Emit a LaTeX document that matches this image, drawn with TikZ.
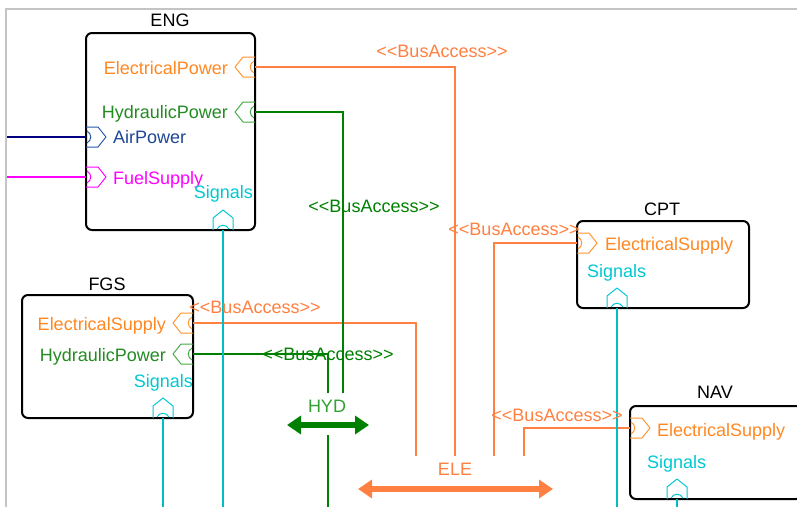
\documentclass[tikz,border=0pt]{standalone}
\usepackage{fontspec}
\setmainfont{Liberation Sans}
\usetikzlibrary{arrows.meta}
\definecolor{frame}{RGB}{196,196,196}
\definecolor{orline}{RGB}{255,128,64}
\definecolor{ortext}{RGB}{255,136,34}
\definecolor{orport}{RGB}{255,150,50}
\definecolor{grline}{RGB}{0,128,0}
\definecolor{grtext}{RGB}{34,139,34}
\definecolor{grport}{RGB}{70,170,70}
\definecolor{hydtext}{RGB}{50,160,50}
\definecolor{nvline}{RGB}{0,0,128}
\definecolor{bltext}{RGB}{30,70,150}
\definecolor{blport}{RGB}{40,90,170}
\definecolor{mgline}{RGB}{255,0,255}
\definecolor{cyline}{RGB}{0,190,200}
\definecolor{cytext}{RGB}{0,200,210}
\newcommand{\busacc}{<\kern0pt<BusAccess>\kern0pt>}
\tikzset{
  blk/.style={draw=black, line width=2pt, rounded corners=6pt, rectangle, inner sep=0pt},
  lbl/.style={inner sep=0pt, font=\fontsize{18}{21}\selectfont},
  ttl/.style={lbl, text=black, anchor=base},
  conn/.style={line width=2.2pt},
  bigarrow/.style={line width=6pt, {Triangle[length=14pt,width=18pt]}-{Triangle[length=14pt,width=18pt]}},
  pics/port/.style={code={
    \draw[#1, line width=1pt, line join=round] (0,-10) -- (-12,-10) -- (-20,0) -- (-12,10) -- (0,10);
    \draw[#1, line width=1pt] (-1,-6) .. controls (-6,-3) and (-6,3) .. (-1,6);
  }},
}
\begin{document}
\begin{tikzpicture}[x=1pt,y=-1pt]
\useasboundingbox (0,0) rectangle (797,506);
\clip (0,0) rectangle (797,506);
\fill[white] (0,0) rectangle (797,506);
% frame
\coordinate (frBL) at (6,512);
\coordinate (frTL) at (6,8.5);
\coordinate (frTR) at (805,8.5);
\draw[frame, line width=2pt] (frBL) -- (frTL) -- (frTR);

% boxes
\node[blk, minimum width=169pt, minimum height=197pt] (eng) at (170.5,131.5) {};
\node[blk, minimum width=171pt, minimum height=123pt] (fgs) at (107.5,356.5) {};
\node[blk, minimum width=172pt, minimum height=87pt] (cpt) at (663,264.5) {};
\node[blk, minimum width=172pt, minimum height=93pt] (nav) at (716,452.5) {};

% titles
\node[ttl] (engT) at (170,27) {ENG};
\node[ttl] (fgsT) at (107,290) {FGS};
\node[ttl] (cptT) at (662,215) {CPT};
\node[ttl] (navT) at (715,398) {NAV};

% port coordinates
\coordinate (engEP) at (255,67);
\coordinate (engHP) at (255,112);
\coordinate (engAP) at (86,137);
\coordinate (engFS) at (86,177);
\coordinate (engSig) at (223,230);
\coordinate (fgsES) at (193,323);
\coordinate (fgsHP) at (193,354);
\coordinate (fgsSig) at (163,418);
\coordinate (cptES) at (577,243);
\coordinate (cptSig) at (617,308);
\coordinate (navES) at (630,428);
\coordinate (navSig) at (677,499);

% free ends
\coordinate (airL) at (7,137);
\coordinate (fuelL) at (7,177);
\coordinate (hydA) at (343,393);
\coordinate (hydB) at (328,393);
\coordinate (hydC) at (328,435);
\coordinate (hydD) at (328,512);
\coordinate (eleA) at (455,456);
\coordinate (eleB) at (416,456);
\coordinate (eleC) at (494,456);
\coordinate (eleD) at (524,456);
\coordinate (engSigE) at (223,512);
\coordinate (fgsSigE) at (163,512);
\coordinate (cptSigE) at (617,512);
\coordinate (navSigE) at (677,512);
\coordinate (hydL) at (287,425);
\coordinate (hydR) at (369,425);
\coordinate (eleL) at (358,489);
\coordinate (eleR) at (553,489);

% connectors
\draw[conn, nvline] (airL) -- (engAP);
\draw[conn, mgline] (fuelL) -- (engFS);
\draw[conn, orline] (engEP) -| (eleA);
\draw[conn, orline] (fgsES) -| (eleB);
\draw[conn, orline] (cptES) -| (eleC);
\draw[conn, orline] (navES) -| (eleD);
\draw[conn, grline] (engHP) -| (hydA);
\draw[conn, grline] (fgsHP) -| (hydB);
\draw[conn, grline] (hydC) -- (hydD);
\draw[conn, cyline] (engSig) -- (engSigE);
\draw[conn, cyline] (fgsSig) -- (fgsSigE);
\draw[conn, cyline] (cptSig) -- (cptSigE);
\draw[conn, cyline] (navSig) -- (navSigE);
\draw[bigarrow, grline] (hydL) -- (hydR);
\draw[bigarrow, orline] (eleL) -- (eleR);

% ports
\pic at (engEP) {port=orport};
\pic at (engHP) {port=grport};
\pic[rotate=180] at (engAP) {port=blport};
\pic[rotate=180] at (engFS) {port=mgline};
\pic[rotate=-90] at (engSig) {port=cytext};
\pic at (fgsES) {port=orport};
\pic at (fgsHP) {port=grport};
\pic[rotate=-90] at (fgsSig) {port=cytext};
\pic[rotate=180] at (cptES) {port=orport};
\pic[rotate=-90] at (cptSig) {port=cytext};
\pic[rotate=180] at (navES) {port=orport};
\pic[rotate=-90] at (navSig) {port=cytext};

% port labels
\node[lbl, text=ortext, anchor=base east] (engEPl) at (228,74) {ElectricalPower};
\node[lbl, text=grtext, anchor=base east] (engHPl) at (228,118.5) {HydraulicPower};
\node[lbl, text=bltext, anchor=base west] (engAPl) at (113,143.5) {AirPower};
\node[lbl, text=mgline, anchor=base west] (engFSl) at (113,184) {FuelSupply};
\node[lbl, text=cytext, anchor=base east] (engSigl) at (253,198) {Signals};
\node[lbl, text=ortext, anchor=base east] (fgsESl) at (166,330) {ElectricalSupply};
\node[lbl, text=grtext, anchor=base east] (fgsHPl) at (166,361) {HydraulicPower};
\node[lbl, text=cytext, anchor=base east] (fgsSigl) at (193,387) {Signals};
\node[lbl, text=ortext, anchor=base west] (cptESl) at (605,250) {ElectricalSupply};
\node[lbl, text=cytext, anchor=base west] (cptSigl) at (587,277) {Signals};
\node[lbl, text=ortext, anchor=base west] (navESl) at (657,436) {ElectricalSupply};
\node[lbl, text=cytext, anchor=base west] (navSigl) at (647,468) {Signals};

% connector labels
\node[lbl, text=orline, anchor=base] (ba1) at (442,57) {\busacc};
\node[lbl, text=grline, anchor=base] (ba2) at (374,212) {\busacc};
\node[lbl, text=orline, anchor=base] (ba3) at (255,313) {\busacc};
\node[lbl, text=grline, anchor=base] (ba4) at (328,360) {\busacc};
\node[lbl, text=orline, anchor=base] (ba5) at (514,235) {\busacc};
\node[lbl, text=orline, anchor=base] (ba6) at (557,421) {\busacc};
\node[lbl, text=hydtext, anchor=base] (hydT) at (327,412) {HYD};
\node[lbl, text=orline, anchor=base] (eleT) at (455,475) {ELE};
\end{tikzpicture}
\end{document}
